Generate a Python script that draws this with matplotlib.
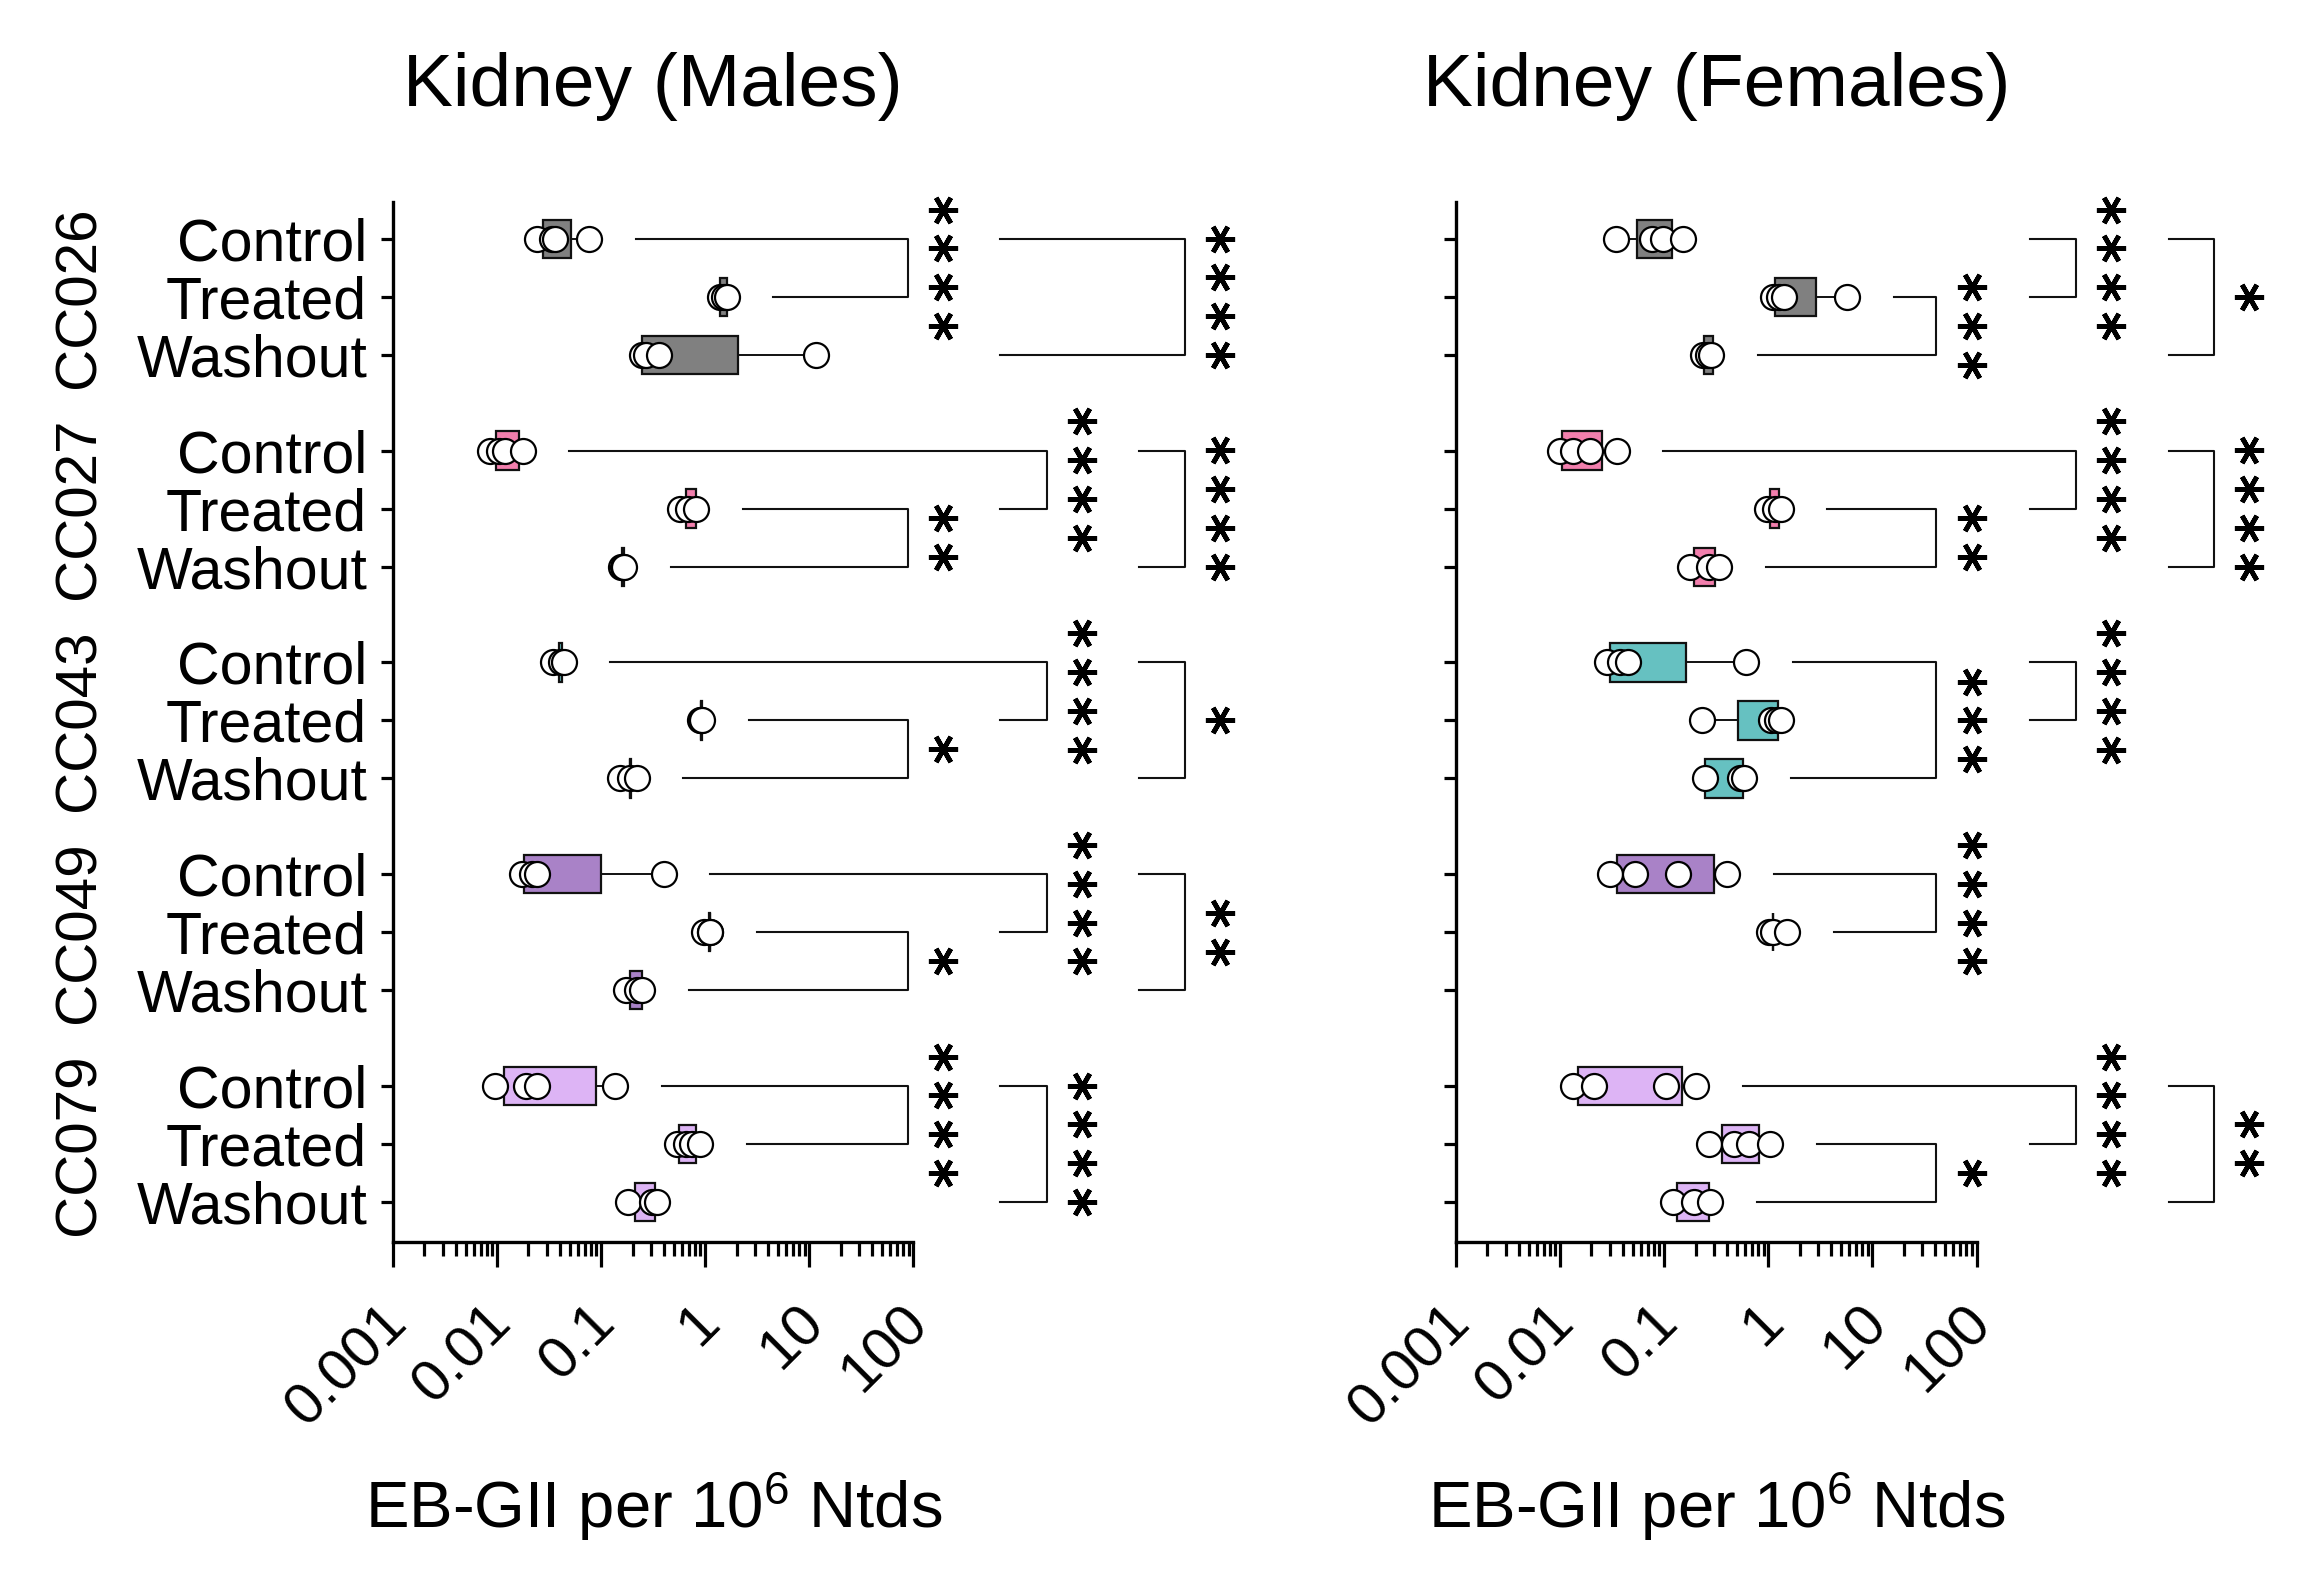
import numpy as np
import matplotlib
matplotlib.use("Agg")
import matplotlib.pyplot as plt
import matplotlib.transforms as mtransforms
from matplotlib.ticker import FixedLocator, LogLocator, NullFormatter

plt.rcParams["font.family"] = ["Liberation Sans", "DejaVu Sans"]
plt.rcParams["mathtext.default"] = "regular"

strains = ["CC026", "CC027", "CC043", "CC049", "CC079"]
conditions = ["Control", "Treated", "Washout"]
strain_colors = ["#808080", "#F27FAD", "#66C1C1", "#A982C7", "#DDB4F5"]
xticks = [1e-3, 1e-2, 1e-1, 1, 10, 100]
xticklabels = ["0.001", "0.01", "0.1", "1", "10", "100"]

# one entry per strain x condition (Control, Treated, Washout)
male_points = [
    [0.0243, 0.0340, 0.0360, 0.0763], [1.38, 1.50, 1.60], [0.246, 0.27, 0.36, 11.5],
    [0.0085, 0.0105, 0.0120, 0.0176], [0.573, 0.68, 0.81], [0.155, 0.162, 0.167],
    [0.0347, 0.0410, 0.0436], [0.90, 0.92, 0.93], [0.153, 0.19, 0.219],
    [0.0173, 0.0215, 0.0240, 0.398], [0.98, 1.10, 1.12], [0.174, 0.22, 0.245],
    [0.0095, 0.0191, 0.0240, 0.137], [0.54, 0.65, 0.74, 0.90], [0.182, 0.308, 0.344],
]
male_q1 = [0.0275, 1.40, 0.247, 0.0097, 0.652, 0.158, 0.0395, 0.91, 0.188,
           0.0180, 1.09, 0.19, 0.0116, 0.564, 0.21]
male_med = [0.0356, 1.50, 0.279, 0.0118, 0.72, 0.163, 0.0410, 0.916, 0.19,
            0.0227, 1.10, 0.212, 0.0221, 0.68, 0.256]
male_q3 = [0.0516, 1.62, 2.05, 0.0161, 0.82, 0.166, 0.0425, 0.925, 0.192,
           0.0986, 1.11, 0.245, 0.0897, 0.813, 0.33]

female_points = [
    [0.0346, 0.0762, 0.0967, 0.150], [1.11, 1.26, 1.43, 5.66], [0.235, 0.265, 0.283],
    [0.0099, 0.01335, 0.0192, 0.0349], [0.975, 1.156, 1.31], [0.178, 0.272, 0.337],
    [0.0279, 0.038, 0.0446, 0.611], [0.23, 1.06, 1.21, 1.31], [0.246, 0.54, 0.58],
    [0.0299, 0.052, 0.1346, 0.399], [1.017, 1.107, 1.52], [],
    [0.01335, 0.0213, 0.105, 0.202], [0.268, 0.473, 0.654, 1.035], [0.1216, 0.194, 0.277],
]
female_q1 = [0.0542, 1.156, 0.24, 0.0105, 1.03, 0.194, 0.0304, 0.507, 0.246,
             0.0349, 1.10, None, 0.0149, 0.361, 0.1324]
female_med = [0.0918, 1.26, 0.265, 0.01335, 1.156, 0.246, 0.0413, 1.135, 0.54,
              0.0844, 1.107, None, 0.0209, 0.637, 0.194]
female_q3 = [0.1185, 2.87, 0.297, 0.0252, 1.27, 0.31, 0.161, 1.236, 0.571,
             0.304, 1.115, None, 0.148, 0.822, 0.272]

# significance: (strain, row a, row b, column, start a, start b, n stars); start None = after data
male_sig = [
    (0, 0, 1, 1, None, None, 4), (0, 0, 2, 3, 2, 2, 4),
    (1, 1, 2, 1, None, None, 2), (1, 0, 1, 2, None, 2, 4), (1, 0, 2, 3, 3, 3, 4),
    (2, 1, 2, 1, None, None, 1), (2, 0, 1, 2, None, 2, 4), (2, 0, 2, 3, 3, 3, 1),
    (3, 1, 2, 1, None, None, 1), (3, 0, 1, 2, None, 2, 4), (3, 0, 2, 3, 3, 3, 2),
    (4, 0, 1, 1, None, None, 4), (4, 0, 2, 2, 2, 2, 4),
]
female_sig = [
    (0, 1, 2, 1, None, None, 3), (0, 0, 1, 2, 2, 2, 4), (0, 0, 2, 3, 3, 3, 1),
    (1, 1, 2, 1, None, None, 2), (1, 0, 1, 2, None, 2, 4), (1, 0, 2, 3, 3, 3, 4),
    (2, 0, 2, 1, None, None, 3), (2, 0, 1, 2, 2, 2, 4),
    (3, 0, 1, 1, None, None, 4),
    (4, 1, 2, 1, None, None, 1), (4, 0, 1, 2, None, 2, 4), (4, 0, 2, 3, 3, 3, 2),
]
# bracket columns in axes fraction: start, vertical, stars
male_cols = {1: (None, 0.989, 1.057), 2: (1.166, 1.256, 1.323), 3: (1.433, 1.521, 1.589)}
female_cols = {1: (None, 0.923, 0.992), 2: (1.102, 1.192, 1.258), 3: (1.369, 1.456, 1.523)}

STEP = 3.65
INK = "#111111"


def rowpos(g, r):
    return g * STEP + r


def panel(ax, points, q1, med, q3, sig, cols, title, labels):
    stats, pos, colors = [], [], []
    for i, pts in enumerate(points):
        if not pts:
            continue
        g, r = divmod(i, 3)
        stats.append(dict(med=med[i], q1=q1[i], q3=q3[i],
                          whislo=min(pts), whishi=max(pts), fliers=[]))
        pos.append(rowpos(g, r))
        colors.append(strain_colors[g])
    ax.set_xscale("log")
    bp = ax.bxp(stats, positions=pos, widths=0.66, orientation="horizontal",
                patch_artist=True, showcaps=False, showfliers=False,
                boxprops=dict(edgecolor=INK, linewidth=1.6),
                medianprops=dict(color=INK, linewidth=1.6),
                whiskerprops=dict(color=INK, linewidth=1.4))
    for b, c in zip(bp["boxes"], colors):
        b.set_facecolor(c)
        b.set_zorder(3)
    for i, pts in enumerate(points):
        if not pts:
            continue
        g, r = divmod(i, 3)
        ax.plot(pts, [rowpos(g, r)] * len(pts), ls="none", marker="o", ms=18,
                mfc="white", mec="black", mew=1.6, zorder=5, clip_on=False)

    ax.set_xlim(1e-3, 1e2)
    ax.set_ylim(4 * STEP + 2 + 0.69, -0.638)
    ax.xaxis.set_major_locator(FixedLocator(xticks))
    ax.xaxis.set_minor_locator(LogLocator(base=10, subs=np.arange(2, 10), numticks=20))
    ax.xaxis.set_minor_formatter(NullFormatter())
    ax.tick_params(axis="x", which="major", length=18, width=2.3, pad=20)
    ax.tick_params(axis="x", which="minor", length=10, width=2.3)
    ax.set_xticklabels(xticklabels, rotation=45, ha="right", va="top",
                       rotation_mode="anchor", fontsize=42)
    shift = mtransforms.ScaledTranslation(-0.13, 0, fig.dpi_scale_trans)
    for lab in ax.get_xticklabels():
        lab.set_transform(lab.get_transform() + shift)
    yt = [rowpos(g, r) for g in range(5) for r in range(3)]
    ax.set_yticks(yt)
    ax.tick_params(axis="y", length=8.6, width=2.3, pad=10)
    if labels:
        ax.set_yticklabels(conditions * 5, fontsize=42.5)
    else:
        ax.set_yticklabels([])
    for s in ("top", "right"):
        ax.spines[s].set_visible(False)
    for s in ("left", "bottom"):
        ax.spines[s].set_linewidth(2.4)

    bt = mtransforms.blended_transform_factory(ax.transAxes, ax.transData)

    def data_start(g, r):
        return (np.log10(max(points[g * 3 + r])) + 3) / 5 + 0.09

    for g, a, b, lev, sa, sb, n in sig:
        ya, yb = rowpos(g, a), rowpos(g, b)
        xv = cols[lev][1]
        xa = data_start(g, a) if sa is None else cols[sa][0]
        xb = data_start(g, b) if sb is None else cols[sb][0]
        ax.plot([xa, xv, xv, xb], [ya, ya, yb, yb], color=INK, lw=1.5,
                transform=bt, clip_on=False)
        mid = (ya + yb) / 2
        ys = mid + (np.arange(n) - (n - 1) / 2) * 0.67
        ax.plot([cols[lev][2]] * n, ys, ls="none", marker=(6, 2, 90), ms=21,
                mew=3.4, color="black", transform=bt, clip_on=False)

    if labels:
        for g, name in enumerate(strains):
            ax.text(-0.602, rowpos(g, 1), name, transform=bt, rotation=90,
                    ha="center", va="center", fontsize=42)

    bb = ax.get_position()
    xc = (bb.x0 + bb.x1) / 2
    fig.text(xc, 0.9334, title, ha="center", va="baseline", fontsize=54)
    fig.text(xc, 0.0402, r"EB-GII per 10$^{6}$ Ntds", ha="center", va="baseline",
             fontsize=47)


fig = plt.figure(figsize=(23.09, 15.92), dpi=100)
ax1 = fig.add_axes([0.1702, 0.2199, 0.2254, 0.6533])
ax2 = fig.add_axes([0.6306, 0.2199, 0.2254, 0.6533])
panel(ax1, male_points, male_q1, male_med, male_q3, male_sig, male_cols,
      "Kidney (Males)", True)
panel(ax2, female_points, female_q1, female_med, female_q3, female_sig, female_cols,
      "Kidney (Females)", False)
fig.savefig("out.png", dpi=100)
